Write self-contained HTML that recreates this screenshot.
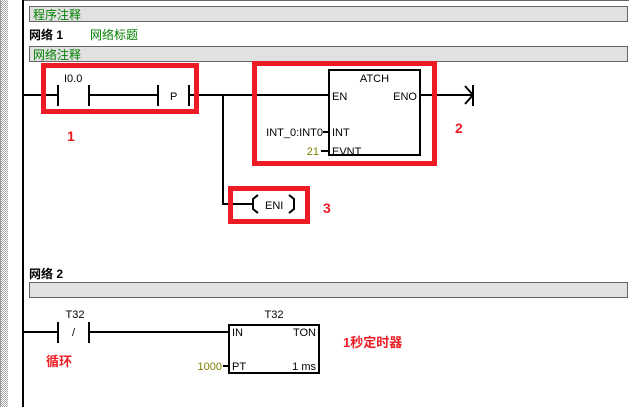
<!DOCTYPE html>
<html>
<head>
<meta charset="utf-8">
<style>
html,body{margin:0;padding:0;background:#fff;}
svg{display:block;}
text{font-family:"Liberation Sans","Noto Sans CJK SC",sans-serif;}
</style>
</head>
<body>
<svg width="629" height="407" viewBox="0 0 629 407" xmlns="http://www.w3.org/2000/svg">
<defs>
<pattern id="chk" width="2" height="2" patternUnits="userSpaceOnUse">
<rect width="2" height="2" fill="#ffffff"/>
<rect x="0" y="0" width="1" height="1" fill="#a8a8a8"/>
<rect x="1" y="1" width="1" height="1" fill="#a8a8a8"/>
</pattern>
</defs>
<rect x="0" y="0" width="629" height="407" fill="#fff"/>
<!-- left hatched strip -->
<rect x="0" y="0" width="8" height="407" fill="url(#chk)"/>
<rect x="0" y="0" width="1" height="407" fill="#9a9a9a"/>
<!-- top line -->
<rect x="22" y="0" width="607" height="1" fill="#666"/>
<!-- power rail -->
<rect x="22" y="0" width="2" height="407" fill="#000"/>

<!-- comment bars -->
<rect x="29.5" y="6.5" width="598" height="15" fill="#e1e1e1" stroke="#666" stroke-width="1"/>
<text x="33" y="19" font-size="12" fill="#008000">程序注释</text>
<text x="29" y="39" font-size="12" font-weight="bold" fill="#000">网络 1</text>
<text x="90" y="39" font-size="12" fill="#008000">网络标题</text>
<rect x="29.5" y="46.5" width="598" height="15" fill="#e1e1e1" stroke="#666" stroke-width="1"/>
<text x="33" y="59" font-size="12" fill="#008000">网络注释</text>

<!-- Network 1 rung -->
<rect x="24" y="94" width="33" height="2" fill="#000"/>
<rect x="57" y="85" width="2" height="21" fill="#000"/>
<rect x="88" y="85" width="2" height="21" fill="#000"/>
<text x="64" y="82" font-size="11" fill="#000">I0.0</text>
<rect x="90" y="94" width="67" height="2" fill="#000"/>
<rect x="157" y="85" width="2" height="21" fill="#000"/>
<text x="170" y="100" font-size="11" fill="#000">P</text>
<rect x="188" y="85" width="2" height="21" fill="#000"/>
<rect x="190" y="94" width="138" height="2" fill="#000"/>
<!-- branch -->
<rect x="222" y="94" width="2" height="111" fill="#000"/>
<rect x="222" y="203" width="31" height="2" fill="#000"/>
<!-- ENI coil -->
<polyline points="258,195 253,199 253,209 258,213" fill="none" stroke="#000" stroke-width="2"/>
<text x="265" y="209" font-size="11" fill="#000">ENI</text>
<polyline points="289,195 294,199 294,209 289,213" fill="none" stroke="#000" stroke-width="2"/>

<!-- ATCH box -->
<rect x="329" y="70" width="91" height="85" fill="#fff" stroke="#000" stroke-width="2"/>
<text x="374.5" y="82" font-size="11" fill="#000" text-anchor="middle">ATCH</text>
<text x="332" y="100" font-size="11" fill="#000">EN</text>
<text x="417" y="100" font-size="11" fill="#000" text-anchor="end">ENO</text>
<text x="332" y="136" font-size="11" fill="#000">INT</text>
<text x="332" y="155" font-size="11" fill="#000">EVNT</text>
<text x="323" y="136" font-size="11" fill="#000" text-anchor="end">INT_0:INT0</text>
<rect x="323" y="131" width="5" height="2" fill="#000"/>
<text x="319" y="155" font-size="11" fill="#808000" text-anchor="end">21</text>
<rect x="321" y="150" width="7" height="2" fill="#000"/>
<!-- ENO output + arrow -->
<rect x="421" y="94" width="52" height="2" fill="#000"/>
<polyline points="465,86 473,95 465,104" fill="none" stroke="#000" stroke-width="2"/>
<rect x="472" y="85" width="2" height="21" fill="#000"/>

<!-- red boxes -->
<rect x="43.5" y="65.5" width="153" height="46" fill="none" stroke="#ed1c24" stroke-width="5"/>
<rect x="254.5" y="63.5" width="180" height="100" fill="none" stroke="#ed1c24" stroke-width="5"/>
<rect x="230.5" y="188.5" width="77" height="33" fill="none" stroke="#ed1c24" stroke-width="5"/>
<text x="67" y="141" font-size="14" font-weight="bold" fill="#ed1c24">1</text>
<text x="455" y="133" font-size="14" font-weight="bold" fill="#ed1c24">2</text>
<text x="323" y="213" font-size="14" font-weight="bold" fill="#ed1c24">3</text>

<!-- Network 2 -->
<text x="29" y="278" font-size="12" font-weight="bold" fill="#000">网络 2</text>
<rect x="29.5" y="282.5" width="598" height="15" fill="#e1e1e1" stroke="#666" stroke-width="1"/>

<rect x="24" y="331" width="33" height="2" fill="#000"/>
<rect x="57" y="322" width="2" height="21" fill="#000"/>
<rect x="88" y="322" width="2" height="21" fill="#000"/>
<text x="75" y="318" font-size="11" fill="#000" text-anchor="middle">T32</text>
<text x="73.5" y="336" font-size="11" fill="#000" text-anchor="middle">/</text>
<rect x="90" y="331" width="138" height="2" fill="#000"/>

<!-- TON box -->
<rect x="229" y="325" width="90" height="48" fill="#fff" stroke="#000" stroke-width="2"/>
<text x="274" y="318" font-size="11" fill="#000" text-anchor="middle">T32</text>
<text x="232" y="336" font-size="11" fill="#000">IN</text>
<text x="316" y="336" font-size="11" fill="#000" text-anchor="end">TON</text>
<text x="232" y="370" font-size="11" fill="#000">PT</text>
<text x="316" y="370" font-size="11" fill="#000" text-anchor="end">1 ms</text>
<text x="222" y="370" font-size="11" fill="#808000" text-anchor="end">1000</text>
<rect x="223" y="365" width="5" height="2" fill="#000"/>

<text x="46" y="366" font-size="13" font-weight="bold" fill="#ed1c24">循环</text>
<text x="343" y="347" font-size="13" font-weight="bold" fill="#ed1c24">1秒定时器</text>
</svg>
</body>
</html>
